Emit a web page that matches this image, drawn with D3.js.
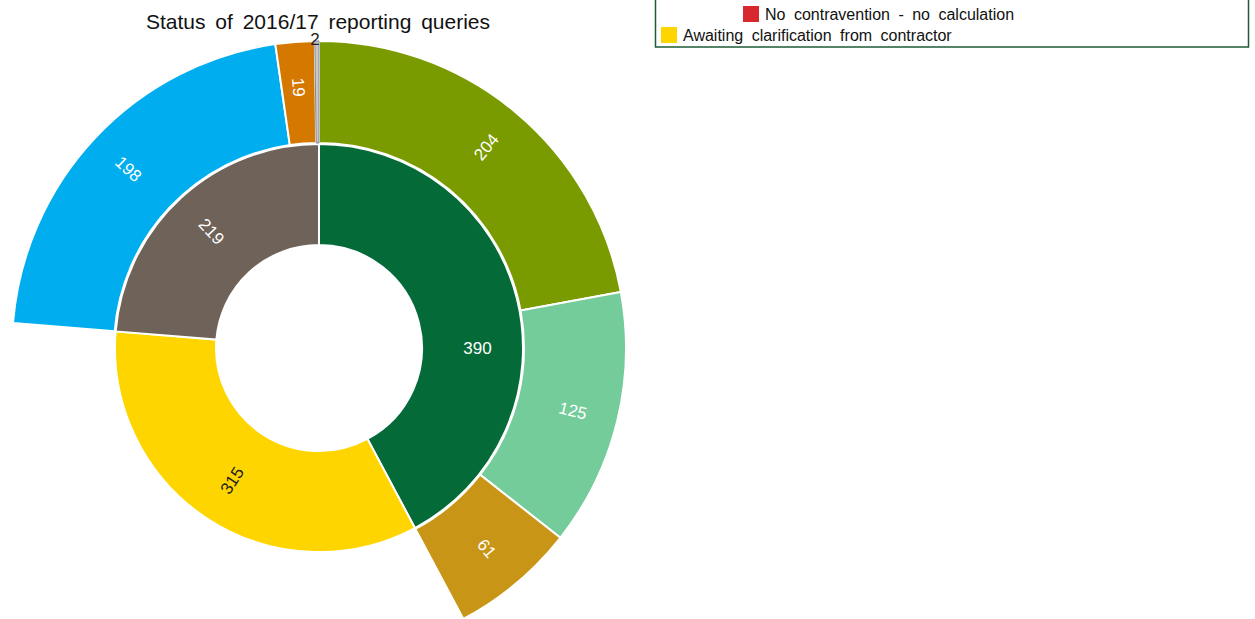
<!DOCTYPE html>
<html>
<head>
<meta charset="utf-8">
<script src="https://cdn.jsdelivr.net/npm/d3@7"></script>
<style>
  body { margin: 0; background: #fff; font-family: "Liberation Sans", Arial, sans-serif; }
  svg { display: block; }
</style>
</head>
<body>
<div id="graphicContainer"></div>
<script>

// inner ring: query status groups
var groups = ["Resolved", "Awaiting clarification from contractor", "Outstanding"]
var groupValues = [390, 315, 219]
var groupColours = ["#046a38", "#ffd500", "#6e6259"]
var groupText = ["#fff", "#222", "#fff"]
// label angle (degrees from 12 o'clock) where the default mid-angle isn't used
var groupLabelAngle = [90, null, null]

// outer ring: breakdown of each group (empty where no breakdown)
var subGroups = [
  ["Contravention - calculated", "Contravention - no calculation", "No contravention - calculated"],
  [],
  ["With contractor", "With authority", "No contravention - no calculation"]
]
var subValues = [[204, 125, 61], [], [198, 19, 2]]
var subColours = [["#7a9b00", "#73cc9a", "#c99516"], [], ["#00aeef", "#d57800", "#c8c8c8"]]

var legendLabels = ["No contravention - no calculation", "Awaiting clarification from contractor"]
var legendColours = ["#d7282f", "#ffd500"]

var width = 1255, height = 619
var cx = 319, cy = 348
var r0 = 103, r1 = 204, r2 = 307

var svg = d3.select("#graphicContainer").append("svg")
  .attr("width", width).attr("height", height)

svg.append("text")
  .attr("x", 318).attr("y", 29)
  .attr("text-anchor", "middle")
  .style("font-size", "21px")
  .style("word-spacing", "4px")
  .style("fill", "#111")
  .text("Status of 2016/17 reporting queries")

var chart = svg.append("g").attr("transform", "translate(" + cx + "," + cy + ")")

var innerPie = d3.pie().sort(null).value(d => d)
var innerArcs = innerPie(groupValues)

var innerArc = d3.arc().innerRadius(r0).outerRadius(r1)
var outerArc = d3.arc().innerRadius(r1 + 1).outerRadius(r2)

function labelTransform(mid, r) {
  var deg = mid * 180 / Math.PI
  var rot = deg - 90
  if (rot > 90) rot -= 180
  var x = r * Math.sin(mid), y = -r * Math.cos(mid)
  return "translate(" + x + "," + y + ") rotate(" + rot + ")"
}

function midAngle(a) {
  return (a.startAngle + a.endAngle) / 2
}

chart.selectAll(".inner")
  .data(innerArcs)
  .enter().append("path")
  .attr("class", "inner")
  .attr("d", innerArc)
  .attr("fill", (d, i) => groupColours[i])
  .attr("stroke", "#fff")
  .attr("stroke-width", 2)

chart.selectAll(".innerLabel")
  .data(innerArcs)
  .enter().append("text")
  .attr("class", "innerLabel")
  .attr("transform", function (d, i) {
    var mid = groupLabelAngle[i] != null ? groupLabelAngle[i] * Math.PI / 180 : midAngle(d)
    return labelTransform(mid, (r0 + r1) / 2 + 5)
  })
  .attr("text-anchor", "middle")
  .attr("dy", "0.35em")
  .style("font-size", "17px")
  .style("fill", (d, i) => groupText[i])
  .text(d => d.data)

innerArcs.forEach(function (parent, gi) {
  if (!subValues[gi].length) return
  var pie = d3.pie().sort(null).value(d => d)
    .startAngle(parent.startAngle).endAngle(parent.endAngle)
  var arcs = pie(subValues[gi])

  chart.selectAll(".outer" + gi)
    .data(arcs)
    .enter().append("path")
    .attr("d", outerArc)
    .attr("fill", (d, i) => subColours[gi][i])
    .attr("stroke", (d, i) => d.data < 5 ? "#888" : "#fff")
    .attr("stroke-width", (d, i) => d.data < 5 ? 1 : 2)

  chart.selectAll(".outerLabel" + gi)
    .data(arcs)
    .enter().append("text")
    .attr("transform", function (d) {
      var mid = midAngle(d)
      if (d.data < 5) {
        return "translate(" + (r2 * Math.sin(mid) - 2) + "," + (-r2 * Math.cos(mid) - 2) + ")"
      }
      return labelTransform(mid, (r1 + r2) / 2 + 6)
    })
    .attr("text-anchor", "middle")
    .attr("dy", "0.35em")
    .style("font-size", "17px")
    .style("fill", d => d.data < 5 ? "#222" : "#fff")
    .text(d => d.data)
})

// legend (top part runs off the page)
var legend = svg.append("g")
legend.append("rect")
  .attr("x", 655.5).attr("y", -200)
  .attr("width", 593).attr("height", 247)
  .attr("fill", "#fff")
  .attr("stroke", "#1e5b36")
  .attr("stroke-width", 1.5)

var legendX = [743, 661]
var legendY = [6, 27]
legendLabels.forEach(function (label, i) {
  legend.append("rect")
    .attr("x", legendX[i]).attr("y", legendY[i])
    .attr("width", 16).attr("height", 16)
    .attr("fill", legendColours[i])
  legend.append("text")
    .attr("x", legendX[i] + 22).attr("y", legendY[i] + 14)
    .style("font-size", "16px")
    .style("word-spacing", "4px")
    .style("fill", "#111")
    .text(label)
})

</script>
</body>
</html>
